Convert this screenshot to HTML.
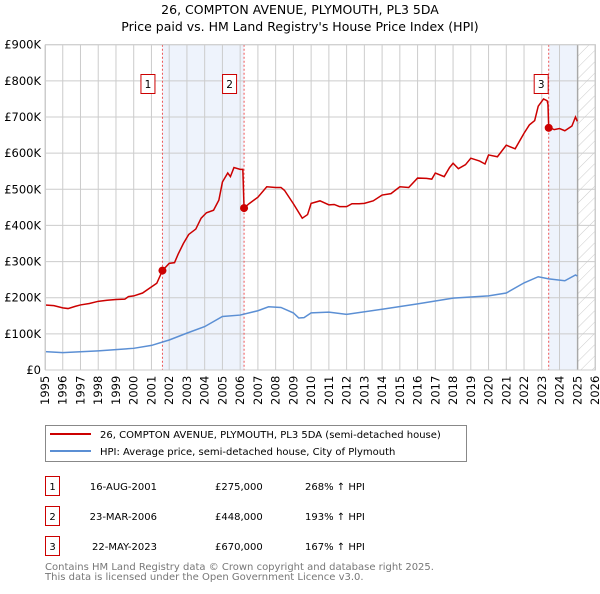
<!DOCTYPE html>
<html><head><meta charset="utf-8"><style>
body{margin:0;background:#fff;font-family:"DejaVu Sans","Liberation Sans",sans-serif;}
svg text{font-family:"DejaVu Sans","Liberation Sans",sans-serif;}
</style></head><body>
<svg id="chart" width="600" height="590" viewBox="0 0 600 590" xmlns="http://www.w3.org/2000/svg">
<defs><pattern id="hatch" patternUnits="userSpaceOnUse" width="8" height="8" patternTransform="rotate(45)"><line x1="0" y1="0" x2="0" y2="8" stroke="#ccc" stroke-width="1"/></pattern></defs>
<text x="300" y="14" text-anchor="middle" font-size="12.5">26, COMPTON AVENUE, PLYMOUTH, PL3 5DA</text>
<text x="300" y="31" text-anchor="middle" font-size="12.5">Price paid vs. HM Land Registry's House Price Index (HPI)</text>
<g id="plot"></g>
<g>
<rect x="45.5" y="425.5" width="421" height="36" fill="#fff" stroke="#888"/>
<line x1="50" y1="434" x2="91" y2="434" stroke="#cc0000" stroke-width="2"/>
<text x="100" y="438" font-size="10">26, COMPTON AVENUE, PLYMOUTH, PL3 5DA (semi-detached house)</text>
<line x1="50" y1="451" x2="91" y2="451" stroke="#5b8fd4" stroke-width="2"/>
<text x="100" y="455" font-size="10">HPI: Average price, semi-detached house, City of Plymouth</text>
</g>
<g id="table" font-size="10"></g>
<text x="45" y="570" font-size="10" fill="#777">Contains HM Land Registry data © Crown copyright and database right 2025.</text>
<text x="45" y="580" font-size="10" fill="#777">This data is licensed under the Open Government Licence v3.0.</text>
</svg>
<script>
const redYears=[1995,1995.5,1996,1996.3,1996.7,1997,1997.5,1998,1998.5,1999,1999.5,1999.7,2000,2000.5,2001,2001.3,2001.62,2002,2002.3,2002.5,2002.8,2003.1,2003.5,2003.8,2004.1,2004.5,2004.8,2005,2005.3,2005.45,2005.65,2006,2006.15,2006.22,2006.5,2007,2007.5,2008,2008.3,2008.5,2009,2009.5,2009.8,2010,2010.5,2011,2011.3,2011.6,2012,2012.3,2012.7,2013,2013.5,2014,2014.5,2015,2015.5,2016,2016.5,2016.8,2017,2017.5,2017.8,2018,2018.3,2018.7,2019,2019.5,2019.8,2020,2020.5,2021,2021.5,2022,2022.3,2022.6,2022.8,2023.1,2023.3,2023.35,2023.39,2023.7,2024,2024.3,2024.7,2024.9,2025];
const redValues=[180,178,172,170,176,180,184,190,193,195,196,203,205,213,230,240,275,295,297,320,350,375,390,420,435,442,470,520,545,535,560,555,555,448,460,478,507,505,505,497,460,420,430,461,468,457,458,452,452,460,460,461,468,484,488,507,505,531,530,528,545,535,560,572,557,568,586,578,570,595,590,622,612,655,678,690,730,750,745,735,672,665,668,662,675,700,688];
const hpiYears=[1995,1996,1998,2000,2001,2002,2003,2004,2005,2006,2007,2007.6,2008.3,2009,2009.3,2009.6,2010,2011,2012,2014,2016,2018,2020,2021,2022,2022.8,2023.4,2024.3,2024.9,2025];
const hpiValues=[51,48,53,60,68,83,102,120,148,152,164,175,173,158,144,145,158,160,154,168,183,199,205,213,241,258,252,247,263,260];
const saleYears=[2001.62,2006.22,2023.39];
const salePrices=[275,448,670];
const saleLabels=["1","2","3"];
const saleDates=["16-AUG-2001","23-MAR-2006","22-MAY-2023"];
const salePriceText=["£275,000","£448,000","£670,000"];
const saleHpiText=["268% ↑ HPI","193% ↑ HPI","167% ↑ HPI"];
const yTicks=[0,100,200,300,400,500,600,700,800,900];
const yTickLabels=["£0","£100K","£200K","£300K","£400K","£500K","£600K","£700K","£800K","£900K"];
const xTicks=[1995,1996,1997,1998,1999,2000,2001,2002,2003,2004,2005,2006,2007,2008,2009,2010,2011,2012,2013,2014,2015,2016,2017,2018,2019,2020,2021,2022,2023,2024,2025,2026];

const X0=45,X1=595,Y0=370,Y1=44.7;
const xs=y=>X0+(y-1995)/(2026-1995)*(X1-X0);
const ys=v=>Y0-v/900*(Y0-Y1);
const NS="http://www.w3.org/2000/svg";
const plot=document.getElementById('plot');
function mk(tag,attrs,parent){const e=document.createElementNS(NS,tag);for(const k in attrs)e.setAttribute(k,attrs[k]);(parent||plot).appendChild(e);return e;}

let e;
e=mk('rect',{x:xs(saleYears[0]),y:Y1,width:xs(saleYears[1])-xs(saleYears[0]),height:Y0-Y1,fill:'#eef3fc'});


e=mk('rect',{x:xs(saleYears[2]),y:Y1,width:xs(2025.03)-xs(saleYears[2]),height:Y0-Y1,fill:'#eef3fc'});


e=mk('rect',{x:xs(2025.03),y:Y1,width:X1-xs(2025.03),height:Y0-Y1,fill:'url(#hatch)'});



xTicks.forEach(t=>{
 e=mk('line',{x1:xs(t),y1:Y1,x2:xs(t),y2:Y0,stroke:'#ccc','stroke-width':1});
 
 
 e=mk('text',{x:0,y:0,transform:`translate(${xs(t)+4},${Y0+35}) rotate(-90)`,'font-size':11.5});
 e.textContent=t;
 
 
});
yTicks.forEach((t,i)=>{
 e=mk('line',{x1:X0,y1:ys(t),x2:X1,y2:ys(t),stroke:'#ccc','stroke-width':1});
 
 
 e=mk('text',{x:X0-4,y:ys(t)+4,'text-anchor':'end','font-size':11.5});
 e.textContent=yTickLabels[i];
 
 
});
e=mk('line',{x1:xs(2025.03),y1:Y1,x2:xs(2025.03),y2:Y0,stroke:'#999','stroke-width':1});



saleYears.forEach((y,i)=>{
 e=mk('line',{x1:xs(y),y1:Y1,x2:xs(y),y2:Y0,stroke:'#e55','stroke-width':1,'stroke-dasharray':'2,2'});
 
 
});

e=mk('polyline',{points:hpiYears.map((y,i)=>xs(y)+','+ys(hpiValues[i])).join(' '),fill:'none',stroke:'#5b8fd4','stroke-width':1.5});


e=mk('polyline',{points:redYears.map((y,i)=>xs(y)+','+ys(redValues[i])).join(' '),fill:'none',stroke:'#cc0000','stroke-width':1.5});



saleYears.forEach((y,i)=>{
 e=mk('circle',{cx:xs(y),cy:ys(salePrices[i]),r:4,fill:'#cc0000'});
 
 
 const bx=xs(y)-(i==2?7:14);
 e=mk('rect',{x:bx-7.5,y:74.5,width:14,height:19,fill:'#fff',stroke:'#cc0000'});
 
 
 e=mk('text',{x:bx-0.5,y:88,'text-anchor':'middle','font-size':10.5});
 e.textContent=saleLabels[i];
 
 
});

const table=document.getElementById('table');
saleYears.forEach((y,i)=>{
 const ty=476+i*30;
 e=mk('rect',{x:45.5,y:ty+0.5,width:14,height:19,fill:'#fff',stroke:'#cc0000'},table);
 
 
 e=mk('text',{x:52.5,y:ty+14,'text-anchor':'middle'},table);
 e.textContent=saleLabels[i];
 
 
 e=mk('text',{x:157,y:ty+14,'text-anchor':'end'},table);
 e.textContent=saleDates[i];
 
 
 e=mk('text',{x:215,y:ty+14},table);
 e.textContent=salePriceText[i];
 
 
 e=mk('text',{x:305,y:ty+14},table);
 e.textContent=saleHpiText[i];
 
 
});
e=mk('rect',{x:X0+0.5,y:Y1,width:X1-X0,height:Y0-Y1,fill:'none',stroke:'#ccc'});


</script>
</body></html>
